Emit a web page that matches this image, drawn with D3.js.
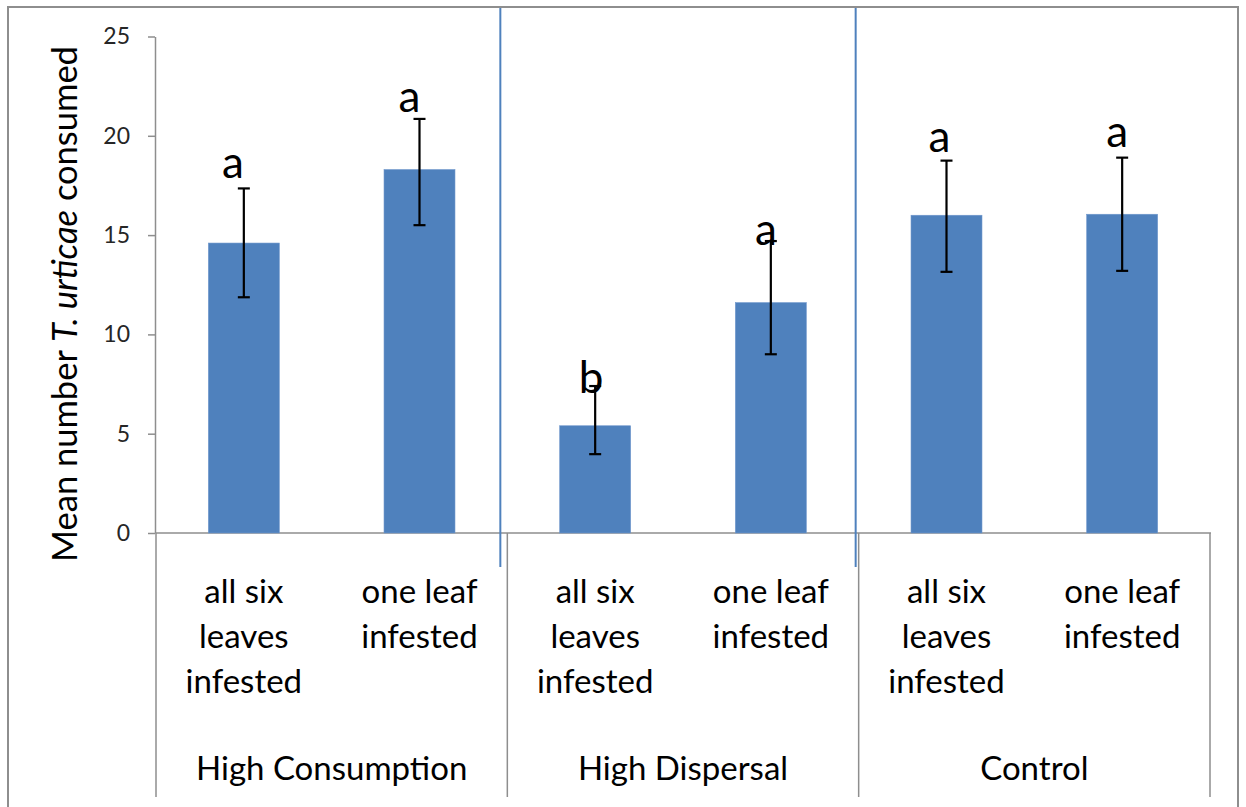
<!DOCTYPE html>
<html>
<head>
<meta charset="utf-8">
<script src="https://cdn.jsdelivr.net/npm/d3@7"></script>
<style>
  html, body { margin: 0; padding: 0; background: #fff; }
  svg { display: block; font-family: Lato, "Open Sans", sans-serif; }
</style>
</head>
<body>
<svg id="chart" width="1246" height="807"></svg>
<script>
// Treatment groups and the two infestation patterns within each
const groups = ["High Consumption", "High Dispersal", "Control"];
const patterns = [["all six", "leaves", "infested"], ["one leaf", "infested"]];

// Mean number of T. urticae consumed per bar (group order, then pattern order)
const means   = [14.6, 18.3, 5.4, 11.6, 16.0, 16.05];
// Error bar ends
const errLow  = [11.87, 15.5, 3.97, 9.0, 13.15, 13.2];
const errHigh = [17.35, 20.85, 7.4, 14.7, 18.75, 18.9];
// Significance letters
const letters = ["a", "a", "b", "a", "a", "a"];

const yTicks = [0, 5, 10, 15, 20, 25];

// Layout of the letter annotations (value level of the baseline, pixel nudge in x)
const letterLevel = [17.9, 21.2, 7.05, 14.5, 19.2, 19.45];
const letterDx = [-11, -10, -4, -5, -7, -5];

const svg = d3.select("#chart");

// Outer frame
svg.append("rect")
  .attr("x", 8).attr("y", 7).attr("width", 1230).attr("height", 830)
  .attr("fill", "none").attr("stroke", "#8e8e8e").attr("stroke-width", 2);

const plotLeft = 156, plotRight = 1210, plotTop = 36.5, plotBottom = 533;

const y = d3.scaleLinear().domain([0, 25]).range([plotBottom, plotTop]);

const bars = means.map((m, i) => ({
  i, mean: m, lo: errLow[i], hi: errHigh[i], letter: letters[i],
  group: groups[Math.floor(i / 2)], pattern: patterns[i % 2]
}));

const x = d3.scaleBand()
  .domain(bars.map(d => d.i))
  .range([plotLeft, plotRight])
  .paddingInner(0.596)
  .paddingOuter(0.298);

const gx = d3.scaleBand().domain(groups).range([plotLeft, plotRight]).padding(0);

// Y axis
const yAxis = svg.append("g")
  .attr("transform", `translate(${plotLeft - 1},0)`)
  .call(d3.axisLeft(y).tickValues(yTicks).tickSize(7).tickSizeOuter(0).tickPadding(18));
yAxis.select(".domain").attr("stroke", "#8e8e8e").attr("stroke-width", 1.5);
yAxis.selectAll(".tick line").attr("stroke", "#8e8e8e").attr("stroke-width", 1.5);
yAxis.selectAll(".tick text")
  .attr("font-family", "Lato, sans-serif").attr("font-size", 23).attr("fill", "#262626");

// Horizontal category axis line
svg.append("line")
  .attr("x1", plotLeft).attr("x2", plotRight + 1)
  .attr("y1", y(0)).attr("y2", y(0))
  .attr("stroke", "#8e8e8e").attr("stroke-width", 1.5);

// Group separators below the axis
const bounds = groups.map(g => gx(g)).concat([plotRight]);
svg.selectAll("line.sep").data(bounds).join("line")
  .attr("class", "sep")
  .attr("x1", d => d).attr("x2", d => d)
  .attr("y1", y(0)).attr("y2", 797)
  .attr("stroke", "#8e8e8e").attr("stroke-width", 1.5);

// Blue divider lines between treatment groups
svg.selectAll("line.div").data(groups.slice(1)).join("line")
  .attr("class", "div")
  .attr("x1", (g, k) => gx(g) - (k === 0 ? 7 : 3))
  .attr("x2", (g, k) => gx(g) - (k === 0 ? 7 : 3))
  .attr("y1", 8).attr("y2", 567)
  .attr("stroke", "#4f81bd").attr("stroke-width", 2);

// Bars
svg.selectAll("rect.bar").data(bars).join("rect")
  .attr("class", "bar")
  .attr("x", d => x(d.i)).attr("width", x.bandwidth())
  .attr("y", d => y(d.mean)).attr("height", d => y(0) - y(d.mean))
  .attr("fill", "#4f81bd").attr("stroke", "#6f97cc").attr("stroke-width", 0.6);

// Error bars
const eb = svg.selectAll("g.err").data(bars).join("g").attr("class", "err")
  .attr("transform", d => `translate(${x(d.i) + x.bandwidth() / 2},0)`);
eb.append("line").attr("x1", 0).attr("x2", 0)
  .attr("y1", d => y(d.lo)).attr("y2", d => y(d.hi))
  .attr("stroke", "#000").attr("stroke-width", 2.2);
eb.append("line").attr("x1", -6).attr("x2", 6)
  .attr("y1", d => y(d.lo)).attr("y2", d => y(d.lo))
  .attr("stroke", "#000").attr("stroke-width", 2.2);
eb.append("line").attr("x1", -6).attr("x2", 6)
  .attr("y1", d => y(d.hi)).attr("y2", d => y(d.hi))
  .attr("stroke", "#000").attr("stroke-width", 2.2);

// Significance letters
svg.selectAll("text.sig").data(bars).join("text")
  .attr("class", "sig")
  .attr("x", d => x(d.i) + x.bandwidth() / 2 + letterDx[d.i])
  .attr("y", d => y(letterLevel[d.i]))
  .attr("text-anchor", "middle")
  .attr("font-size", 44).attr("fill", "#000")
  .text(d => d.letter);

// Category labels (pattern, multi-line)
const cat = svg.selectAll("text.cat").data(bars).join("text")
  .attr("class", "cat")
  .attr("text-anchor", "middle")
  .attr("font-size", 33).attr("fill", "#000");
cat.selectAll("tspan").data(d => d.pattern.map(t => ({ t, cx: x(d.i) + x.bandwidth() / 2 })))
  .join("tspan")
  .attr("x", d => d.cx)
  .attr("y", (d, k) => 603 + k * 45)
  .text(d => d.t);

// Group labels
svg.selectAll("text.grp").data(groups).join("text")
  .attr("class", "grp")
  .attr("x", g => gx(g) + gx.bandwidth() / 2)
  .attr("y", 780)
  .attr("text-anchor", "middle")
  .attr("font-size", 33).attr("fill", "#000")
  .text(g => g);

// Y axis title
const title = svg.append("text")
  .attr("transform", "translate(77,304) rotate(-90)")
  .attr("text-anchor", "middle")
  .attr("font-size", 34.5).attr("fill", "#000");
title.append("tspan").text("Mean number ");
title.append("tspan").attr("font-style", "italic").text("T. urticae");
title.append("tspan").text(" consumed");
</script>
</body>
</html>
